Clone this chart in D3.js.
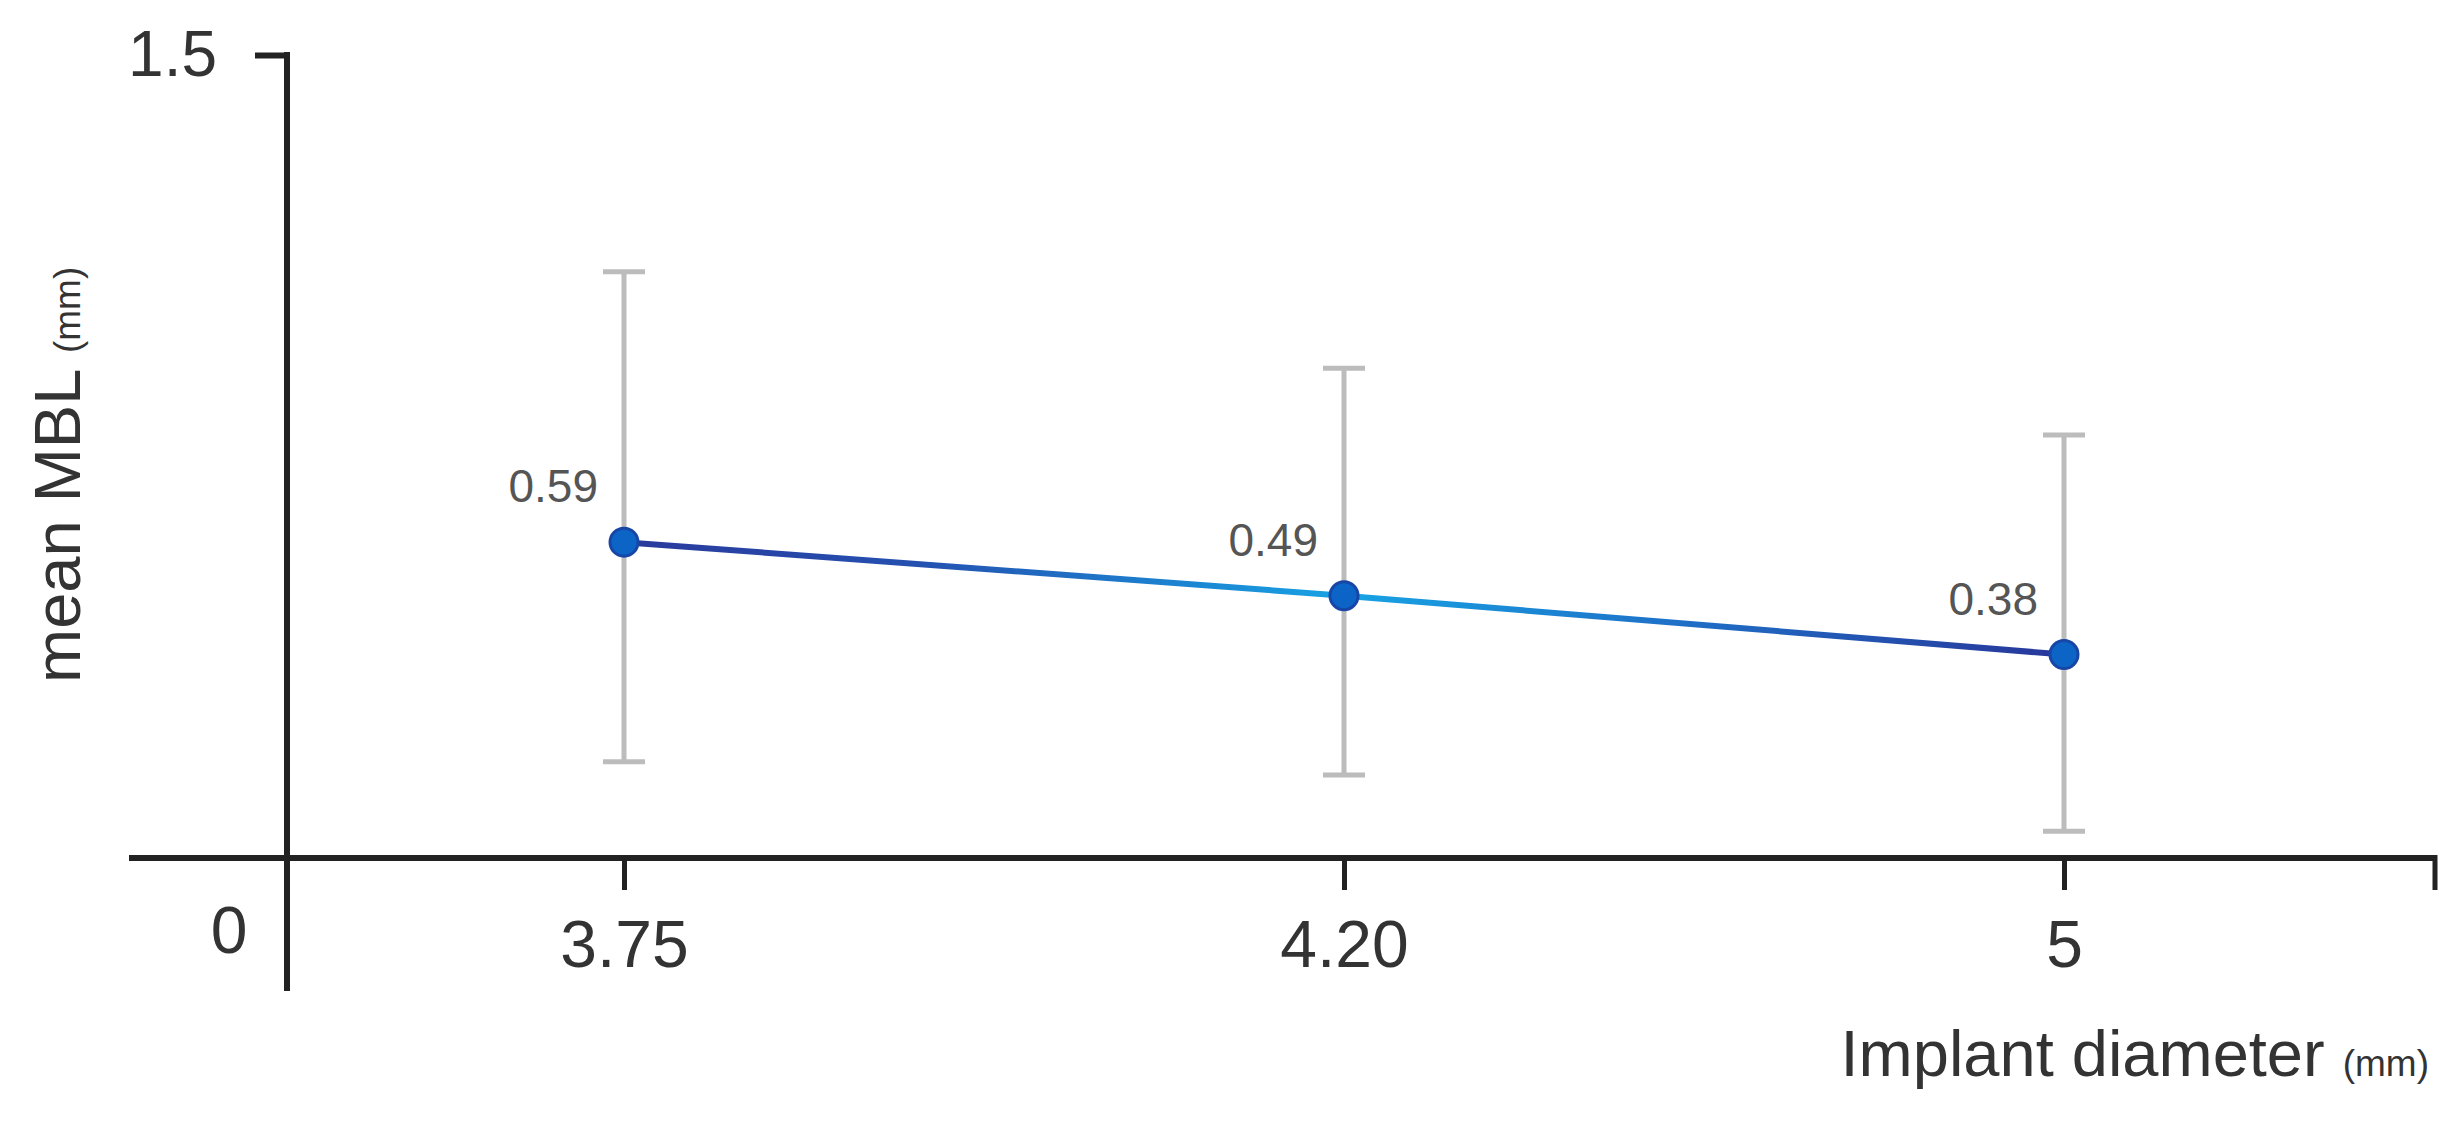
<!DOCTYPE html>
<html>
<head>
<meta charset="utf-8">
<script src="https://cdn.jsdelivr.net/npm/d3@7"></script>
<style>
  body { margin: 0; background: #fff; }
  svg text { font-family: "Liberation Sans", Arial, sans-serif; }
</style>
</head>
<body>
<div id="chart"></div>
<script>
// data
const diameters = ['3.75', '4.20', '5']
const meanMBL = [0.59, 0.49, 0.38]
const errLow = [0.18, 0.155, 0.05]
const errHigh = [1.095, 0.915, 0.79]
const yTicks = [1.5]

const width = 2459
const height = 1122

const axisX = 287      // where the y axis sits
const xStart = 129
const xEnd = 2435

const svg = d3.select('#chart')
.append('svg')
.attr('width', width)
.attr('height', height)

const x = d3.scalePoint()
.domain(diameters)
.range([624, 2064])

const y = d3.scaleLinear()
.domain([0, 1.5])
.range([858, 55])

const data = diameters.map((d, i) => ({d, mean: meanMBL[i], lo: errLow[i], hi: errHigh[i]}))

// gradient for the connecting line
const grad = svg.append('defs')
.append('linearGradient')
.attr('id', 'lineGrad')
.attr('gradientUnits', 'userSpaceOnUse')
.attr('x1', x(diameters[0])).attr('x2', x(diameters[diameters.length - 1]))
.attr('y1', 0).attr('y2', 0)

grad.selectAll('stop')
.data([[0, '#2a3a9c'], [0.2, '#2450b0'], [0.5, '#17a3e4'], [0.75, '#1f6cc4'], [1, '#28369a']])
.enter().append('stop')
.attr('offset', d => d[0])
.attr('stop-color', d => d[1])

const axes = svg.append('g')
const bars = svg.append('g')
const line = svg.append('g')
const dots = svg.append('g')
const labels = svg.append('g')

// x axis, drawn by hand to get the long frame line
axes.append('line')
.attr('x1', xStart).attr('x2', xEnd)
.attr('y1', y(0)).attr('y2', y(0))
.attr('stroke', '#222').attr('stroke-width', 6)

axes.append('line')
.attr('x1', xEnd).attr('x2', xEnd)
.attr('y1', y(0) - 3).attr('y2', y(0) + 32)
.attr('stroke', '#222').attr('stroke-width', 5)

const xAxis = axes.append('g')
.attr('transform', `translate(0,${y(0)})`)
.call(d3.axisBottom(x).tickSize(32).tickPadding(30))

xAxis.select('.domain').remove()
xAxis.selectAll('line').attr('stroke', '#222').attr('stroke-width', 5)
xAxis.selectAll('text')
.attr('fill', '#333')
.style('font-size', '66px')
.attr('dy', '0.71em')

// y axis
axes.append('line')
.attr('x1', axisX).attr('x2', axisX)
.attr('y1', y(1.5) - 3).attr('y2', 991)
.attr('stroke', '#222').attr('stroke-width', 6)

const yAxis = axes.append('g')
.attr('transform', `translate(${axisX},0)`)
.call(d3.axisLeft(y).tickValues(yTicks).tickSize(32).tickPadding(38).tickFormat(d3.format('.1f')))

yAxis.select('.domain').remove()
yAxis.selectAll('line').attr('stroke', '#222').attr('stroke-width', 6)
yAxis.selectAll('text')
.attr('fill', '#333')
.style('font-size', '64px')

// origin label
axes.append('text')
.attr('x', axisX - 58)
.attr('y', y(0) + 95)
.attr('text-anchor', 'middle')
.attr('fill', '#333')
.style('font-size', '66px')
.text('0')

// axis titles
const yTitle = axes.append('text')
.attr('transform', `translate(80,683) rotate(-90)`)
.attr('fill', '#333')
.style('font-size', '65px')

yTitle.append('tspan').text('mean MBL ')
yTitle.append('tspan').style('font-size', '37px').text('(mm)')

const xTitle = axes.append('text')
.attr('x', 2429)
.attr('y', 1076)
.attr('text-anchor', 'end')
.attr('fill', '#333')
.style('font-size', '65px')

xTitle.append('tspan').text('Implant diameter ')
xTitle.append('tspan').style('font-size', '37px').text('(mm)')

// error bars
bars.selectAll('line.bar')
.data(data)
.enter().append('line')
.attr('class', 'bar')
.attr('x1', d => x(d.d)).attr('x2', d => x(d.d))
.attr('y1', d => y(d.lo)).attr('y2', d => y(d.hi))
.attr('stroke', '#bcbcbc').attr('stroke-width', 5)

bars.selectAll('line.cap')
.data(data.flatMap(d => [{d: d.d, v: d.lo}, {d: d.d, v: d.hi}]))
.enter().append('line')
.attr('class', 'cap')
.attr('x1', d => x(d.d) - 21).attr('x2', d => x(d.d) + 21)
.attr('y1', d => y(d.v)).attr('y2', d => y(d.v))
.attr('stroke', '#bcbcbc').attr('stroke-width', 5)

// mean line
line.append('path')
.datum(data)
.attr('d', d3.line().x(d => x(d.d)).y(d => y(d.mean)))
.attr('fill', 'none')
.attr('stroke', 'url(#lineGrad)')
.attr('stroke-width', 6)

dots.selectAll('circle')
.data(data)
.enter().append('circle')
.attr('cx', d => x(d.d))
.attr('cy', d => y(d.mean))
.attr('r', 14)
.attr('fill', '#0b64c6')
.attr('stroke', '#1846a6')
.attr('stroke-width', 3)

labels.selectAll('text')
.data(data)
.enter().append('text')
.attr('x', d => x(d.d) - 26)
.attr('y', d => y(d.mean) - 40)
.attr('text-anchor', 'end')
.attr('fill', '#555')
.style('font-size', '46px')
.text(d => d3.format('.2f')(d.mean))
</script>
</body>
</html>
